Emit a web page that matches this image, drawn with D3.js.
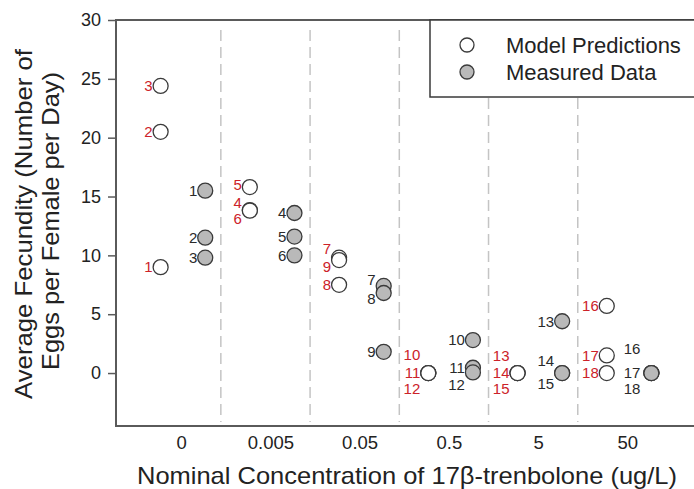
<!DOCTYPE html>
<html>
<head>
<meta charset="utf-8">
<script src="https://cdn.jsdelivr.net/npm/d3@7"></script>
<style>
  body { margin: 0; background: #fff; }
  text { font-family: "Liberation Sans", Arial, sans-serif; }
</style>
</head>
<body>
<div id="chart"></div>
<script>
// concentration groups (x axis tick labels)
var concentrations = ["0", "0.005", "0.05", "0.5", "5", "50"];

// fecundity values, treatment 1..18 (3 per concentration)
var modelValues    = [9.0, 20.5, 24.4, 13.85, 15.8, 13.8, 9.8, 7.5, 9.6, 0, 0, 0, 0, 0, 0, 5.7, 1.5, 0];
var measuredValues = [15.5, 11.5, 9.8, 13.6, 11.6, 10.0, 7.4, 6.8, 1.8, 2.8, 0.45, 0.05, 4.4, 0, 0, 0, 0, 0];

var yTicks = [0, 5, 10, 15, 20, 25, 30];

// label nudges (px) so stacked numbers don't collide
var modelLabelDy    = {4: -7, 5: -2, 6: 8, 7: -9, 9: 7, 10: -18, 12: 16, 13: -17, 15: 16};
var measuredLabelDy = {7: -6, 8: 6, 12: 12, 14: -12, 15: 11, 16: -24, 18: 16};

var width = 694, height = 489;
var plot = {left: 116, top: 20, right: 696, bottom: 426};

var svg = d3.select("#chart")
  .append("svg")
    .attr("width", width)
    .attr("height", height);

var x = d3.scaleLinear().domain([-0.5, 6]).range([plot.left, plot.right]);
var y = d3.scaleLinear().domain([-4.5, 30]).range([plot.bottom, plot.top]);

function toPoints(values, offset) {
  return values.map(function(v, i) {
    return {id: i + 1, group: Math.floor(i / 3), value: v, pos: Math.floor(i / 3) + offset};
  });
}
var model = toPoints(modelValues, 0);
var measured = toPoints(measuredValues, 0.5);

// dashed separators between concentrations
svg.append("g")
  .selectAll("line")
  .data(d3.range(concentrations.length - 1))
  .enter()
  .append("line")
    .attr("x1", function(d) { return x(d + 0.675); })
    .attr("x2", function(d) { return x(d + 0.675); })
    .attr("y1", plot.top + 10)
    .attr("y2", plot.bottom - 4)
    .attr("stroke", "#c4c4c4")
    .attr("stroke-width", 1.5)
    .attr("stroke-dasharray", "11,6");

// frame: left, bottom, top
svg.append("path")
  .attr("d", "M" + plot.right + "," + plot.top + "H" + plot.left + "V" + plot.bottom + "H" + plot.right)
  .attr("fill", "none")
  .attr("stroke", "#5a5a5a")
  .attr("stroke-width", 2);

// y axis
var yAxis = svg.append("g")
  .attr("transform", "translate(" + plot.left + ",0)")
  .call(d3.axisLeft(y).tickValues(yTicks).tickSize(8).tickPadding(7));
yAxis.select(".domain").remove();
yAxis.selectAll("line").attr("stroke", "#5a5a5a").attr("stroke-width", 1.5);
yAxis.selectAll("text")
  .attr("fill", "#222")
  .style("font-size", "18px")
  .style("font-family", "Liberation Sans, Arial, sans-serif");

// x axis (labels only)
var xAxis = svg.append("g")
  .attr("transform", "translate(0," + plot.bottom + ")")
  .call(d3.axisBottom(x)
    .tickValues(d3.range(concentrations.length).map(function(i) { return i + 0.23; }))
    .tickFormat(function(d, i) { return concentrations[i]; })
    .tickSize(0).tickPadding(10));
xAxis.select(".domain").remove();
xAxis.selectAll("text")
  .attr("fill", "#222")
  .style("font-size", "18.5px")
  .style("font-family", "Liberation Sans, Arial, sans-serif");

// axis titles
svg.append("text")
  .attr("x", 407)
  .attr("y", 484)
  .attr("text-anchor", "middle")
  .attr("fill", "#222")
  .attr("textLength", 540)
  .attr("lengthAdjust", "spacingAndGlyphs")
  .style("font-size", "24px")
  .text("Nominal Concentration of 17\u03b2-trenbolone (ug/L)");

var yTitle = svg.append("g")
  .attr("transform", "translate(0,224) rotate(-90)");
yTitle.append("text")
  .attr("x", 0).attr("y", 32)
  .attr("text-anchor", "middle")
  .attr("fill", "#222")
  .attr("textLength", 350)
  .attr("lengthAdjust", "spacingAndGlyphs")
  .style("font-size", "24px")
  .text("Average Fecundity (Number of");
yTitle.append("text")
  .attr("x", 3).attr("y", 59)
  .attr("text-anchor", "middle")
  .attr("fill", "#222")
  .attr("textLength", 298)
  .attr("lengthAdjust", "spacingAndGlyphs")
  .style("font-size", "24px")
  .text("Eggs per Female per Day)");

// points
function drawSeries(data, fill, labelColor, labelDy, labelDx) {
  var g = svg.append("g");
  g.selectAll("circle")
    .data(data)
    .enter()
    .append("circle")
      .attr("cx", function(d) { return x(d.pos); })
      .attr("cy", function(d) { return y(d.value); })
      .attr("r", 7.5)
      .attr("fill", fill)
      .attr("stroke", "#3a3a3a")
      .attr("stroke-width", 1.3);
  g.selectAll("text")
    .data(data)
    .enter()
    .append("text")
      .attr("x", function(d) { return x(d.pos) + labelDx(d); })
      .attr("y", function(d) { return y(d.value) + (labelDy[d.id] || 0); })
      .attr("dy", "0.35em")
      .attr("text-anchor", "end")
      .attr("fill", labelColor)
      .style("font-size", "15px")
      .text(function(d) { return d.id; });
}

drawSeries(model, "#fff", "#cc2229", modelLabelDy, function(d) { return -8; });
drawSeries(measured, "#b9b9b9", "#2a2a2a", measuredLabelDy, function(d) { return d.id >= 16 ? -11 : -8; });

// legend
var legend = svg.append("g");
legend.append("rect")
  .attr("x", 430).attr("y", plot.top)
  .attr("width", 300).attr("height", 77)
  .attr("fill", "#fff")
  .attr("stroke", "#3a3a3a")
  .attr("stroke-width", 1.5);
var legendItems = [
  {name: "Model Predictions", fill: "#fff"},
  {name: "Measured Data", fill: "#b9b9b9"}
];
legendItems.forEach(function(item, i) {
  legend.append("circle")
    .attr("cx", 467).attr("cy", 45 + i * 27)
    .attr("r", 7)
    .attr("fill", item.fill)
    .attr("stroke", "#3a3a3a")
    .attr("stroke-width", 1.3);
  legend.append("text")
    .attr("x", 506).attr("y", 45 + i * 27)
    .attr("dy", "0.35em")
    .attr("fill", "#222")
    .style("font-size", "22px")
    .text(item.name);
});
</script>
</body>
</html>
